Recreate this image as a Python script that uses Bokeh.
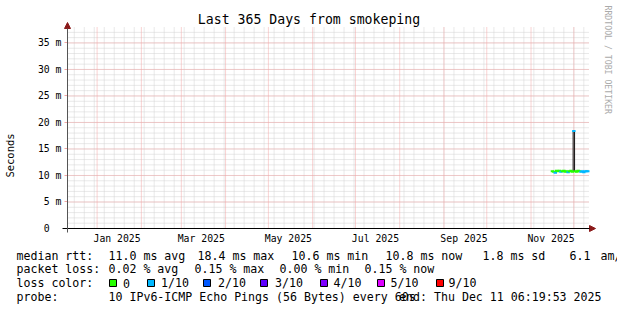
import math
import pandas as pd
from bokeh.plotting import figure
from bokeh.models import (Range1d, FixedTicker, DatetimeTickFormatter, Label,
                          Arrow, NormalHead, BoxAnnotation, ColumnDataSource)
from bokeh.embed import file_html
from bokeh.resources import INLINE

# ---------------- data ----------------
TITLE = "Last 365 Days from smokeping"
END_TIME = "2025-12-11 06:19:53"
SPAN_DAYS = 365

dates = ["2025-11-16", "2025-11-17", "2025-11-18", "2025-11-19", "2025-11-20",
         "2025-11-21", "2025-11-22", "2025-11-23", "2025-11-24", "2025-11-25",
         "2025-11-26", "2025-11-27", "2025-11-28", "2025-11-29", "2025-11-30",
         "2025-12-01", "2025-12-02", "2025-12-03", "2025-12-04", "2025-12-05",
         "2025-12-06", "2025-12-07", "2025-12-08", "2025-12-09", "2025-12-10",
         "2025-12-11"]
median_ms = [10.8, 10.7, 10.5, 10.9, 10.8, 10.9, 10.7, 10.8, 10.9, 10.7,
             10.8, 10.6, 10.8, 10.9, 10.7, 18.4, 10.8, 10.7, 10.9, 10.8,
             10.7, 10.8, 10.6, 10.8, 10.8, 10.8]
loss_count = [0, 0, 1, 0, 0, 0, 1, 0, 0, 0, 0, 1, 0, 0, 0, 1, 0, 0, 0, 0,
              1, 1, 1, 1, 1, 1]

x_label_dates = ["2025-01-15", "2025-03-15", "2025-05-15", "2025-07-15",
                 "2025-09-15", "2025-11-15"]
y_ticks = [0, 5, 10, 15, 20, 25, 30, 35]
y_tick_labels = ["0\u00a0\u00a0", "5 m", "10 m", "15 m", "20 m", "25 m", "30 m", "35 m"]
y_minor = list(range(1, 38))
Y_MAX = 38.1

loss_counts = [0, 1, 2, 3, 4, 5, 9]
loss_names = ["0", "1/10", "2/10", "3/10", "4/10", "5/10", "9/10"]
loss_colors = ["#26ff00", "#00b8ff", "#0059ff", "#5e00ff", "#7e00ff", "#dd00ff", "#ff0000"]

rtt_stats = ["11.0 ms avg", "18.4 ms max", "10.6 ms min", "10.8 ms now", "1.8 ms sd", "6.1", "am/s"]
loss_stats = ["0.02 % avg", "0.15 % max", "0.00 % min", "0.15 % now"]
probe_text = "10 IPv6-ICMP Echo Pings (56 Bytes) every 60s"
end_text = "end: Thu Dec 11 06:19:53 2025"
watermark = "RRDTOOL / TOBI OETIKER"

# ---------------- layout constants (canvas px) ----------------
W, H = 617, 310
PL, PR, PT, PB = 67, 588, 26, 228   # plot area of the chart
MONO = "DejaVu Sans Mono"
MGRID = "#f3a6a6"
GRID = "#d2d2d2"
ARROW_C = "#8b1a1a"


def ms(ts):
    return pd.Timestamp(ts).value / 1e6


end_ms = ms(END_TIME)
start_ms = end_ms - SPAN_DAYS * 86400e3
kx = (PR - PL) / (end_ms - start_ms)      # px per ms of time
ky = (PB - PT) / Y_MAX                    # px per ms of rtt

# the frame covers the whole canvas; axes are pinned at fixed locations
p = figure(width=W, height=H, output_backend="svg", toolbar_location=None,
           x_axis_type="datetime", title=None,
           min_border_left=0, min_border_right=0, min_border_top=0, min_border_bottom=0)
p.x_range = Range1d(start_ms - PL / kx, start_ms + (W - PL) / kx)
p.y_range = Range1d(-(H - PB) / ky, PB / ky)
p.outline_line_color = None
p.background_fill_color = "white"
p.border_fill_color = "white"
p.xgrid.visible = False
p.ygrid.visible = False

# grid lines (limited to the plot area, like rrdtool)
weeks = pd.date_range("2024-12-12", "2025-12-11", freq="W-MON")
months = pd.date_range("2025-01-01", "2025-12-01", freq="MS")
wx = [ms(t) for t in weeks]
mx = [ms(t) for t in months]
p.segment(x0=wx, y0=[0] * len(wx), x1=wx, y1=[Y_MAX] * len(wx),
          line_color=GRID, line_dash="1 1", line_width=1)
p.segment(x0=[start_ms] * len(y_minor), y0=y_minor, x1=[end_ms] * len(y_minor), y1=y_minor,
          line_color=GRID, line_dash="1 1", line_width=1)
p.segment(x0=mx, y0=[0] * len(mx), x1=mx, y1=[Y_MAX] * len(mx),
          line_color=MGRID, line_dash="1 1", line_width=1)
p.segment(x0=[start_ms] * len(y_ticks), y0=y_ticks, x1=[end_ms] * len(y_ticks), y1=y_ticks,
          line_color=MGRID, line_dash="1 1", line_width=1)

# axes
xa = p.xaxis[0]
xa.fixed_location = 0
xa.ticker = FixedTicker(ticks=[ms(d) for d in x_label_dates])
fmt = "%b %Y"
xa.formatter = DatetimeTickFormatter(milliseconds=fmt, seconds=fmt, minsec=fmt, minutes=fmt,
                                     hourmin=fmt, hours=fmt, days=fmt, months=fmt, years=fmt)
xa.axis_line_color = None
xa.major_tick_line_color = None
xa.minor_tick_line_color = None
xa.major_tick_out = 0
xa.major_tick_in = 0
xa.minor_tick_out = 0
xa.minor_tick_in = 0
xa.major_label_standoff = 4
xa.major_label_text_font = MONO
xa.major_label_text_font_size = "9.8px"
xa.major_label_text_color = "black"

ya = p.yaxis[0]
ya.fixed_location = start_ms
ya.ticker = FixedTicker(ticks=y_ticks)
ya.major_label_overrides = dict(zip(y_ticks, y_tick_labels))
ya.axis_line_color = None
ya.major_tick_out = 3
ya.major_tick_in = 0
ya.major_tick_line_color = MGRID
ya.minor_tick_line_color = None
ya.minor_tick_out = 0
ya.minor_tick_in = 0
ya.major_label_standoff = 3
ya.major_label_text_font = MONO
ya.major_label_text_font_size = "9.8px"
ya.major_label_text_color = "black"
ya.axis_label = "Seconds"
ya.axis_label_text_font = MONO
ya.axis_label_text_font_size = "10.5px"
ya.axis_label_text_font_style = "normal"
ya.axis_label_text_color = "black"
ya.axis_label_standoff = 19

# data: median line coloured by loss, one step per day
color_of = dict(zip(loss_counts, loss_colors))
t = [ms(d) for d in dates]
half = 12 * 3600e3
seg = ColumnDataSource(dict(
    x0=[v - half for v in t], x1=[min(v + half, end_ms) for v in t], y=median_ms,
    c=[color_of[l] for l in loss_count]))
con = ColumnDataSource(dict(
    x=[v + half for v in t[:-1]], y0=median_ms[:-1], y1=median_ms[1:]))
p.segment(x0="x", y0="y0", x1="x", y1="y1", source=con, line_color="#111111", line_width=1)
p.segment(x0="x0", y0="y", x1="x1", y1="y", source=seg, line_color="c", line_width=2,
          line_cap="square")

# axis lines with arrows
p.add_layout(Arrow(x_start=start_ms - 5 / kx, y_start=0, x_end=end_ms + 7 / kx, y_end=0,
                   line_color="black", line_width=1,
                   end=NormalHead(size=6, fill_color=ARROW_C, line_color=ARROW_C)))
p.add_layout(Arrow(x_start=start_ms, y_start=-4 / ky, x_end=start_ms, y_end=Y_MAX + 4 / ky,
                   line_color="#555555", line_width=1,
                   end=NormalHead(size=6, fill_color=ARROW_C, line_color=ARROW_C)))


def lab(X, Y, text, size="11.6px", align="left", color="black", angle=0.0):
    # canvas px (from top-left) -> screen units (from the frame's bottom-left = canvas)
    p.add_layout(Label(x=X, y=H - Y, x_units="screen", y_units="screen", text=text,
                       text_font=MONO, text_font_size=size, text_align=align,
                       text_baseline="middle", text_color=color, angle=angle))


lab(W / 2, 19, TITLE, "13.2px", align="center")
lab(607, 5, watermark, "8.2px", color="#aaaaaa", angle=-math.pi / 2)

# ---------------- legend ----------------
L1, L2, L3, L4 = 255, 268.5, 282.5, 296
lab(16, L1, "median rtt:")
for xx, s in zip([108, 197, 291, 385, 482, 569, 600], rtt_stats):
    lab(xx, L1, s)
lab(16, L2, "packet loss:")
for xx, s in zip([108, 194, 279, 364], loss_stats):
    lab(xx, L2, s)
lab(16, L3, "loss color:")
box_x = [109, 147, 203, 260, 320, 377, 436]
box_t = [122.5, 160.5, 217.5, 274.5, 333, 390, 448]
for bx, txx, name, col in zip(box_x, box_t, loss_names, loss_colors):
    p.add_layout(BoxAnnotation(left=bx, right=bx + 7, top=H - (L3 - 3.5), bottom=H - (L3 + 3.5),
                               left_units="screen", right_units="screen", top_units="screen",
                               bottom_units="screen", fill_color=col, fill_alpha=1.0,
                               line_color="black", line_width=1, line_alpha=1.0))
    lab(txx, L3, name)
lab(16, L4, "probe:")
lab(108, L4, probe_text)
lab(601, L4, end_text, align="right")

open("out.html", "w").write(file_html(p, INLINE))
